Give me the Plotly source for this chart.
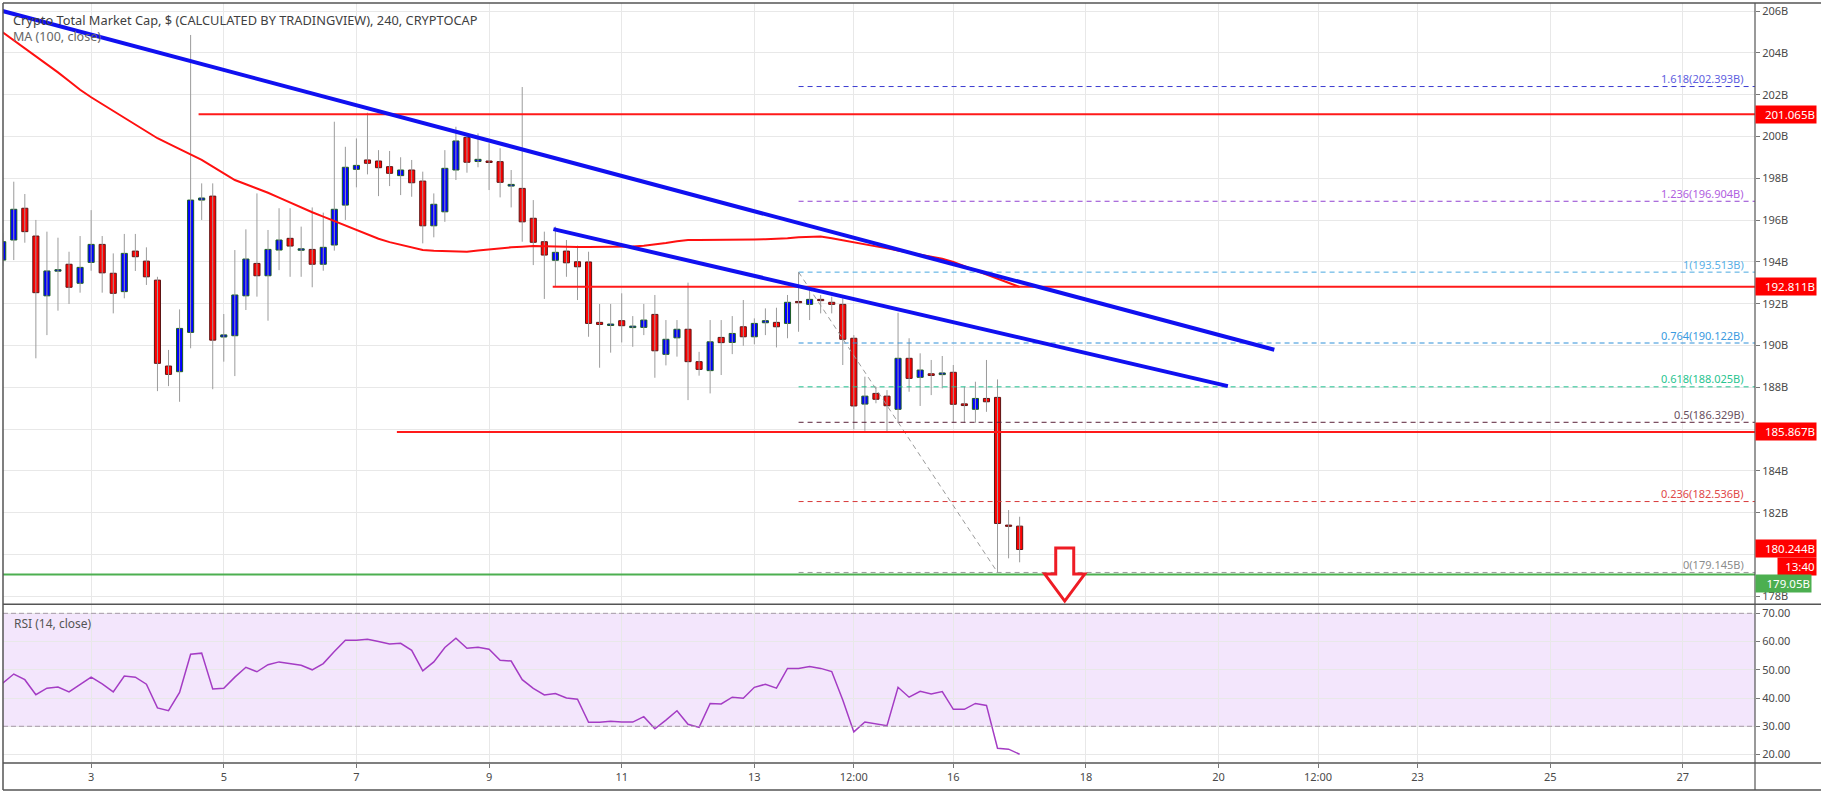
import plotly.graph_objects as go

# ---------------- data ----------------
BAR_COUNT = 93
FIRST_BAR_DAY = 10 / 6          # first 4H bar (day-of-month, fractional)
BAR_STEP_DAY = 1 / 6            # 4 hours
candle_day = [FIRST_BAR_DAY + i * BAR_STEP_DAY for i in range(BAR_COUNT)]

open_ = [194.09, 195.05, 196.57, 195.24, 192.38, 193.56, 193.89, 192.98, 193.98, 194.84,
         193.46, 192.58, 194.52, 194.04, 193.13, 189.02, 188.75, 190.63, 196.96, 197.15,
         190.41, 190.47, 192.38, 193.93, 193.34, 194.57, 195.13, 194.56, 194.60, 193.89,
         194.81, 196.72, 198.43, 198.88, 198.83, 198.56, 198.13, 198.40, 197.87, 195.73,
         196.40, 198.40, 199.96, 198.81, 198.83, 198.80, 197.63, 197.52, 196.09, 194.97,
         194.08, 194.52, 194.01, 194.00, 191.11, 190.96, 191.19, 190.86, 190.87, 191.49,
         189.58, 190.37, 190.78, 189.23, 188.80, 190.39, 190.15, 190.90, 190.42, 191.09,
         191.11, 191.06, 192.11, 191.97, 192.21, 192.07, 191.97, 190.35, 187.20, 187.71,
         187.58, 186.95, 189.39, 188.48, 188.65, 188.61, 188.72, 187.21, 186.95, 187.47,
         187.52, 181.41, 181.36]
high = [195.40, 197.84, 197.25, 196.01, 195.45, 195.16, 194.49, 195.24, 196.48, 195.24,
        194.41, 195.34, 195.34, 194.70, 193.29, 189.79, 191.73, 204.86, 197.76, 197.76,
        191.51, 194.57, 195.56, 197.28, 195.53, 196.57, 196.57, 195.69, 196.61, 196.36,
        200.71, 199.51, 199.91, 201.14, 199.35, 199.31, 199.01, 198.88, 198.32, 197.28,
        199.35, 200.47, 200.07, 200.15, 199.68, 199.44, 198.40, 202.37, 196.96, 195.45,
        195.69, 195.05, 194.78, 194.49, 191.99, 191.99, 192.50, 191.41, 191.99, 192.42,
        191.22, 191.22, 193.01, 189.70, 191.22, 191.22, 191.41, 192.18, 191.30, 191.78,
        191.81, 192.42, 193.513, 192.81, 192.42, 192.34, 192.26, 190.50, 188.51, 188.03,
        187.87, 191.57, 190.35, 189.63, 189.31, 189.50, 189.07, 188.03, 188.27, 189.31,
        188.38, 182.13, 181.81]
low = [193.80, 194.09, 194.92, 189.39, 190.50, 191.67, 191.99, 192.53, 193.58, 192.53,
       191.54, 192.26, 193.57, 192.90, 187.82, 188.06, 187.31, 189.87, 196.01, 187.91,
       189.23, 188.54, 191.70, 192.34, 191.19, 193.61, 193.29, 193.29, 192.79, 193.58,
       194.54, 196.01, 197.57, 198.19, 197.15, 197.63, 197.20, 197.12, 194.89, 195.18,
       195.92, 197.92, 198.27, 198.53, 197.44, 197.09, 196.61, 194.97, 193.85, 192.23,
       192.81, 193.29, 192.18, 190.42, 188.94, 189.66, 190.15, 189.94, 190.50, 188.46,
       189.05, 189.47, 187.39, 188.56, 187.71, 188.59, 189.59, 189.99, 190.06, 190.50,
       189.91, 190.35, 190.66, 191.22, 191.54, 191.54, 189.07, 185.99, 185.92, 187.24,
       185.85, 186.35, 187.79, 187.11, 187.63, 187.95, 186.31, 186.31, 186.31, 186.83,
       179.145, 179.82, 179.63]
close = [194.97, 196.52, 195.45, 192.53, 193.57, 193.63, 192.79, 193.74, 194.84, 193.48,
         192.50, 194.41, 194.25, 193.29, 189.15, 188.62, 190.82, 196.96, 197.06, 190.26,
         190.51, 192.42, 194.14, 193.34, 194.60, 195.05, 194.76, 194.63, 193.89, 194.70,
         196.52, 198.53, 198.62, 198.72, 198.51, 198.24, 198.40, 197.79, 195.73, 196.76,
         198.48, 199.79, 198.77, 198.91, 198.76, 197.81, 197.71, 195.92, 194.94, 194.33,
         194.46, 193.96, 193.77, 191.06, 191.01, 191.03, 190.95, 190.93, 191.22, 189.75,
         190.30, 190.78, 189.23, 188.86, 190.18, 190.14, 190.58, 190.42, 191.06, 191.19,
         190.90, 192.07, 192.05, 192.21, 192.15, 191.97, 190.30, 187.11, 187.58, 187.43,
         187.12, 189.39, 188.43, 188.83, 188.57, 188.69, 187.19, 187.13, 187.47, 187.31,
         181.49, 181.35, 180.244]
ma100 = [204.99, 204.61, 204.23, 203.87, 203.49, 203.07, 202.66, 202.24, 201.88, 201.55,
         201.22, 200.89, 200.57, 200.24, 199.92, 199.66, 199.40, 199.14, 198.88, 198.56,
         198.23, 197.92, 197.72, 197.52, 197.31, 197.08, 196.84, 196.59, 196.38, 196.17,
         195.96, 195.75, 195.53, 195.32, 195.11, 194.95, 194.82, 194.69, 194.57, 194.54,
         194.52, 194.49, 194.49, 194.55, 194.61, 194.67, 194.70, 194.73, 194.76, 194.75,
         194.73, 194.72, 194.71, 194.71, 194.71, 194.71, 194.71, 194.74, 194.78, 194.83,
         194.91, 194.99, 195.05, 195.05, 195.05, 195.05, 195.06, 195.07, 195.08, 195.09,
         195.10, 195.14, 195.18, 195.21, 195.22, 195.13, 195.04, 194.94, 194.84, 194.75,
         194.65, 194.55, 194.45, 194.35, 194.25, 194.15, 194.00, 193.80, 193.60, 193.40,
         193.20, 193.00, 192.80]
rsi14 = [45.3, 48.5, 46.5, 41.2, 43.5, 43.9, 42.2, 44.7, 47.4, 45.0,
         42.2, 47.8, 47.4, 44.9, 36.5, 35.5, 42.0, 55.5, 55.9, 43.2,
         43.5, 47.4, 50.9, 49.3, 51.8, 52.8, 52.1, 51.6, 50.0, 52.2,
         56.5, 60.5, 60.5, 60.8, 60.0, 59.1, 59.4, 56.9, 49.6, 52.8,
         57.9, 61.2, 57.6, 58.0, 57.3, 53.4, 53.1, 46.5, 43.4, 41.1,
         41.6, 40.0, 39.6, 31.4, 31.4, 31.8, 31.5, 31.5, 33.4, 29.1,
         32.2, 35.5, 30.7, 29.6, 38.1, 37.9, 40.3, 39.9, 43.8, 44.9,
         43.5, 50.5, 50.5, 51.2, 50.5, 49.4, 39.3, 28.0, 31.5, 30.8,
         30.2, 43.8, 40.3, 42.4, 41.4, 42.3, 36.0, 36.0, 38.1, 37.4,
         22.2, 21.9, 20.1]

x_tick_vals = [3, 5, 7, 9, 11, 13, 14.5, 16, 18, 20, 21.5, 23, 25, 27]
x_tick_text = ["3", "5", "7", "9", "11", "13", "12:00", "16", "18", "20", "12:00", "23", "25", "27"]
price_tick_vals = [178, 180, 182, 184, 186, 188, 190, 192, 194, 196, 198, 200, 202, 204, 206]
# 180B and 186B sit under the price-label boxes in the reference, so they are not shown
price_tick_text = ["178B", "", "182B", "184B", "", "188B", "190B", "192B", "194B",
                   "196B", "198B", "200B", "202B", "204B", "206B"]
rsi_tick_vals = [20, 30, 40, 50, 60, 70]
rsi_tick_text = ["20.00", "30.00", "40.00", "50.00", "60.00", "70.00"]
rsi_bounds = [30, 70]

resistance_levels = [201.065, 192.811, 185.867]
resistance_start_day = [4.62, 9.96, 7.61]
support_level = 179.05
fib_ratio = ["1.618", "1.236", "1", "0.764", "0.618", "0.5", "0.236", "0"]
fib_value = [202.393, 196.904, 193.513, 190.122, 188.025, 186.329, 182.536, 179.145]
fib_line_color = ["#3a3ad0", "#9040d0", "#4aa8e0", "#2f90d8", "#20c090", "#5a2038", "#d83838", "#9a9a9a"]
fib_text_color = ["#6060e0", "#b060e0", "#5ab0e6", "#3a9ae0", "#28c490", "#6a5060", "#e04848", "#8c8c8c"]
fib_start_day = 13.667
fib_swing_day = [13.667, 16.667]
fib_swing_price = [193.513, 179.145]
trend_upper_day = [1.626, 20.84]
trend_upper_price = [206.04, 189.80]
trend_lower_day = [9.97, 20.14]
trend_lower_price = [195.57, 188.06]
last_price = 180.244
countdown_text = "13:40"
arrow_day = 17.68
arrow_price = 180.31

x_range = [1.671, 28.088]
price_range = [177.62, 206.39]
rsi_range = [17.0, 73.19]
fib_label_day = 27.95

# ---------------- figure ----------------
FONT = "Noto Sans"
GRID = "#e8e8e8"
FRAME = "#555555"
MAIN_BOTTOM = 0.2088

fig = go.Figure()

# wicks
wx, wy = [], []
for d, h, l in zip(candle_day, high, low):
    wx += [d, d, None]
    wy += [l, h, None]
fig.add_trace(go.Scatter(x=wx, y=wy, mode="lines", line=dict(color="#9b9b9b", width=1),
                         xaxis="x", yaxis="y", hoverinfo="skip"))

# bodies
is_up = [c >= o for o, c in zip(open_, close)]
fig.add_trace(go.Bar(
    x=candle_day,
    y=[abs(c - o) for o, c in zip(open_, close)],
    base=[min(o, c) for o, c in zip(open_, close)],
    width=0.092,
    marker=dict(color=["#0000ff" if u else "#ff0000" for u in is_up],
                line=dict(color=["#1b5e20" if u else "#5d1414" for u in is_up], width=1)),
    xaxis="x", yaxis="y", hoverinfo="skip"))

# MA 100
fig.add_trace(go.Scatter(x=candle_day, y=ma100, mode="lines",
                         line=dict(color="#ff1010", width=2), xaxis="x", yaxis="y"))

# fib levels (dashed)
for lvl, col in zip(fib_value, fib_line_color):
    fig.add_trace(go.Scatter(x=[fib_start_day, x_range[1]], y=[lvl, lvl], mode="lines",
                             line=dict(color=col, width=1, dash="5px,4px"), xaxis="x", yaxis="y"))
fig.add_trace(go.Scatter(x=fib_swing_day, y=fib_swing_price, mode="lines",
                         line=dict(color="#9a9a9a", width=1, dash="5px,4px"), xaxis="x", yaxis="y"))

# horizontal resistance / support
for lvl, st in zip(resistance_levels, resistance_start_day):
    fig.add_trace(go.Scatter(x=[st, x_range[1]], y=[lvl, lvl], mode="lines",
                             line=dict(color="#ff1a1a", width=2), xaxis="x", yaxis="y"))
fig.add_trace(go.Scatter(x=[x_range[0], x_range[1]], y=[support_level, support_level], mode="lines",
                         line=dict(color="#4caf50", width=2), xaxis="x", yaxis="y"))

# trend lines
fig.add_trace(go.Scatter(x=trend_upper_day, y=trend_upper_price, mode="lines",
                         line=dict(color="#1010f0", width=4), xaxis="x", yaxis="y"))
fig.add_trace(go.Scatter(x=trend_lower_day, y=trend_lower_price, mode="lines",
                         line=dict(color="#1010f0", width=4), xaxis="x", yaxis="y"))

# RSI
fig.add_trace(go.Scatter(x=candle_day, y=rsi14, mode="lines",
                         line=dict(color="#a43cc4", width=1.5), xaxis="x2", yaxis="y2"))

shapes = []
# RSI band and bounds
shapes.append(dict(type="rect", xref="paper", yref="y2", x0=0, x1=1, y0=rsi_bounds[0], y1=rsi_bounds[1],
                   fillcolor="#f3e6fc", line=dict(width=0), layer="between"))
for b in rsi_bounds:
    shapes.append(dict(type="line", xref="paper", yref="y2", x0=0, x1=1, y0=b, y1=b,
                       line=dict(color="#a69aa8", width=1, dash="5px,3px"), layer="above"))

# frame
BOTTOM_FRAME = -0.0355
RIGHT_EDGE = 1.0377
shapes += [
    dict(type="line", xref="paper", yref="paper", x0=0, x1=RIGHT_EDGE, y0=1, y1=1, line=dict(color=FRAME, width=1.5)),
    dict(type="line", xref="paper", yref="paper", x0=0, x1=0, y0=BOTTOM_FRAME, y1=1, line=dict(color=FRAME, width=1.5)),
    dict(type="line", xref="paper", yref="paper", x0=1, x1=1, y0=BOTTOM_FRAME, y1=1, line=dict(color=FRAME, width=1.2)),
    dict(type="line", xref="paper", yref="paper", x0=0, x1=RIGHT_EDGE, y0=MAIN_BOTTOM, y1=MAIN_BOTTOM, line=dict(color=FRAME, width=1.5)),
    dict(type="line", xref="paper", yref="paper", x0=0, x1=RIGHT_EDGE, y0=0, y1=0, line=dict(color=FRAME, width=1.5)),
    dict(type="line", xref="paper", yref="paper", x0=0, x1=RIGHT_EDGE, y0=BOTTOM_FRAME, y1=BOTTOM_FRAME, line=dict(color=FRAME, width=1.5)),
]

# red down arrow (outline), sized in pixels around its anchor
shapes.append(dict(type="path", xref="x", yref="y", xsizemode="pixel", ysizemode="pixel",
                   xanchor=arrow_day, yanchor=arrow_price,
                   path="M -9,0 L 9,0 L 9,-26 L 20,-26 L 0,-53 L -20,-26 L -9,-26 Z",
                   fillcolor="white", line=dict(color="#ee1c25", width=3), layer="above"))

annotations = []
annotations.append(dict(xref="paper", yref="paper", x=0.0046, y=0.9776, xanchor="left", yanchor="middle",
                        text="Crypto Total Market Cap, $ (CALCULATED BY TRADINGVIEW), 240, CRYPTOCAP",
                        showarrow=False, font=dict(family=FONT, size=12.8, color="#3f3f3f")))
annotations.append(dict(xref="paper", yref="paper", x=0.0046, y=0.9557, xanchor="left", yanchor="middle",
                        text="MA (100, close)", showarrow=False, font=dict(family=FONT, size=12.5, color="#666666")))
annotations.append(dict(xref="paper", yref="paper", x=0.0049, y=0.1836, xanchor="left", yanchor="middle",
                        text="RSI (14, close)", showarrow=False, font=dict(family=FONT, size=12, color="#555555")))

for r, v, col in zip(fib_ratio, fib_value, fib_text_color):
    annotations.append(dict(xref="x", yref="y", x=fib_label_day, y=v, xanchor="right", yanchor="middle",
                            yshift=8, text=f"{r}({v:.3f}B)", showarrow=False,
                            font=dict(family=FONT, size=11, color=col)))

# price labels on the axis
def axis_label(y, text, bg, yshift=0, xshift=0, width=58):
    return dict(xref="paper", yref="y", x=1, y=y, xanchor="left", yanchor="middle", xshift=xshift,
                yshift=yshift, text=text, showarrow=False, bgcolor=bg, borderpad=1, width=width,
                align="right", font=dict(family=FONT, size=11.5, color="white"))

for lvl in resistance_levels:
    annotations.append(axis_label(lvl, f"{lvl:.3f}B", "#ff0000"))
annotations.append(axis_label(last_price, f"{last_price:.3f}B", "#ff0000", yshift=1))
annotations.append(axis_label(last_price, countdown_text, "#ff0000", yshift=-17, xshift=22, width=36))
annotations.append(axis_label(support_level, f"{support_level:.2f}B", "#4caf50", yshift=-9, width=53))

axis_font = dict(family=FONT, size=11, color="#4a4a4a")
fig.update_layout(
    width=1821, height=792,
    margin=dict(l=3, r=66, t=3, b=29),
    paper_bgcolor="white", plot_bgcolor="white",
    showlegend=False, hovermode=False, barmode="overlay",
    shapes=shapes, annotations=annotations,
    xaxis=dict(domain=[0, 1], anchor="y", range=x_range, tickvals=x_tick_vals, ticktext=x_tick_text,
               showticklabels=False, showgrid=True, gridcolor=GRID, zeroline=False, showline=False, ticks=""),
    yaxis=dict(domain=[MAIN_BOTTOM, 1], anchor="x", side="right", range=price_range,
               tickvals=price_tick_vals, ticktext=price_tick_text, tickfont=axis_font,
               ticks="outside", ticklen=4, tickcolor="#777777",
               showgrid=True, gridcolor=GRID, zeroline=False, showline=False),
    xaxis2=dict(domain=[0, 1], anchor="y2", matches="x", range=x_range, tickvals=x_tick_vals,
                ticktext=x_tick_text, tickfont=axis_font, ticks="outside", ticklen=4, tickcolor="#777777",
                showgrid=True, gridcolor=GRID, zeroline=False, showline=False),
    yaxis2=dict(domain=[0, MAIN_BOTTOM], anchor="x2", side="right", range=rsi_range,
                tickvals=rsi_tick_vals, ticktext=rsi_tick_text, tickfont=axis_font,
                ticks="outside", ticklen=4, tickcolor="#777777",
                showgrid=True, gridcolor=GRID, zeroline=False, showline=False),
)

fig.write_html("out.html")
